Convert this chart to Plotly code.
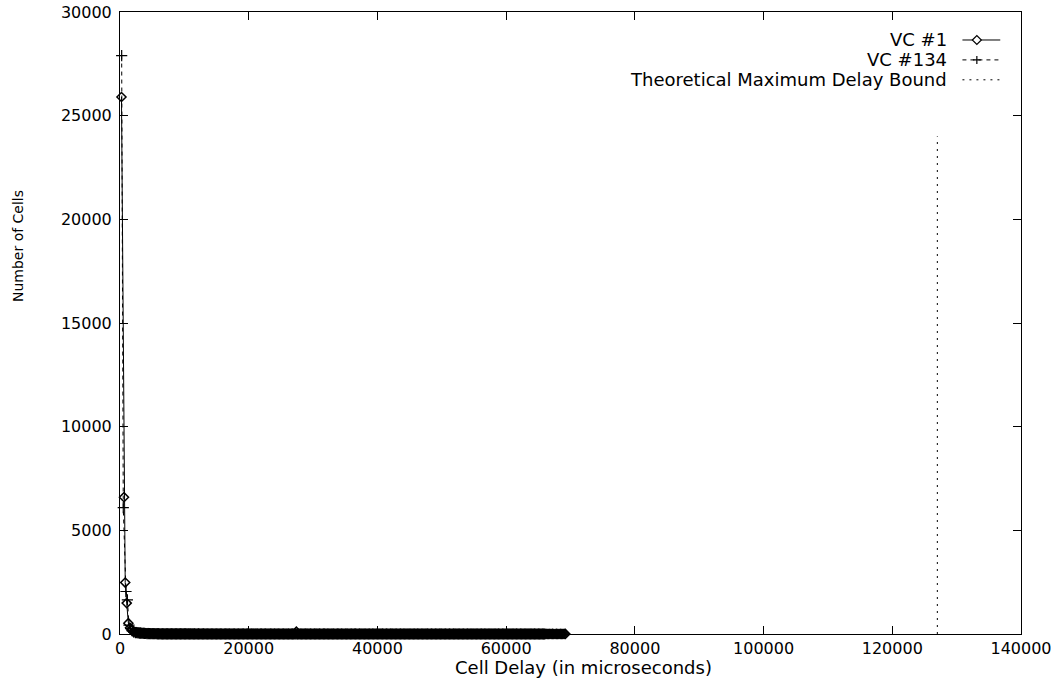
import plotly.graph_objects as go

# ---------------- data ----------------
x_ticks = [0, 20000, 40000, 60000, 80000, 100000, 120000, 140000]
y_ticks = [0, 5000, 10000, 15000, 20000, 25000, 30000]

# VC #1 : first histogram bins (steep part)
vc1_delay_head = [230, 620, 810, 1040, 1300, 1560, 1820, 2100]
vc1_cells_head = [25900, 6600, 2480, 1490, 520, 300, 180, 110]
# tail bins, 200 us wide
bin_width = 200
vc1_delay_tail = list(range(2400, 69201, bin_width))
vc1_cells_tail = [
    85, 75, 66, 58, 51, 45, 40, 36, 32, 29, 26, 24, 22, 20, 18, 16, 15, 14, 13, 12,
    11, 10, 9, 9, 8, 8, 7, 7, 6, 6, 5, 5, 5, 4, 4, 4, 4, 3, 3, 3,
    3, 3, 2, 3, 2, 2, 2, 2, 3, 2, 2, 1, 2, 2, 1, 2, 1, 1, 2, 1,
    1, 2, 1, 1, 1, 2, 1, 1, 0, 1, 1, 1, 2, 1, 0, 1, 1, 1, 0, 1,
    1, 0, 1, 1, 1, 0, 1, 1, 0, 1, 2, 0, 1, 1, 0, 1, 0, 1, 1, 0,
    1, 1, 0, 1, 0, 1, 1, 0, 1, 0, 1, 1, 0, 0, 1, 1, 0, 1, 0, 1,
    0, 1, 1, 0, 1, 110, 1, 0, 1, 0, 0, 1, 1, 0, 1, 0, 1, 0, 0, 1,
    0, 1, 0, 1, 0, 0, 1, 1, 0, 1, 0, 0, 1, 0, 1, 0, 0, 1, 1, 0,
    1, 0, 0, 1, 0, 1, 0, 0, 1, 0, 1, 1, 0, 0, 1, 0, 1, 0, 0, 1,
    0, 0, 1, 0, 1, 0, 0, 1, 0, 0, 1, 0, 1, 0, 0, 1, 0, 0, 1, 0,
    1, 0, 0, 1, 0, 0, 1, 0, 1, 0, 0, 1, 0, 0, 1, 0, 0, 1, 0, 1,
    0, 0, 1, 0, 0, 1, 0, 1, 0, 0, 1, 0, 0, 1, 0, 0, 1, 0, 1, 0,
    0, 1, 0, 0, 1, 0, 0, 1, 0, 1, 0, 0, 1, 0, 0, 1, 0, 0, 1, 0,
    1, 0, 0, 1, 0, 0, 1, 0, 0, 1, 0, 1, 0, 0, 1, 0, 0, 1, 0, 0,
    1, 0, 1, 0, 0, 1, 0, 0, 1, 0, 0, 1, 0, 0, 1, 0, 1, 0, 0, 1,
    0, 0, 1, 0, 0, 1, 0, 0, 1, 0, 1, 0, 0, 1, 0, 0, 1, 0, 0, 1,
    0, 0, 1, 0, 1, 0, 0, 1, 0, 0, 1, 0, 0, 1, 1,
]

# VC #134
vc134_delay_head = [260, 510, 930, 1150, 1400, 1650, 1900, 2150]
vc134_cells_head = [27900, 6100, 2050, 1650, 430, 260, 150, 90]
vc134_delay_tail = list(range(2400, 66001, bin_width))
vc134_cells_tail = [
    70, 61, 53, 46, 40, 35, 31, 27, 24, 21, 19, 17, 15, 14, 13, 12, 11, 10, 9, 8,
    8, 7, 7, 6, 6, 5, 5, 4, 4, 4, 4, 3, 3, 3, 3, 2, 3, 2, 2, 2,
    2, 2, 1, 2, 2, 1, 2, 1, 1, 2, 1, 1, 1, 2, 1, 1, 0, 1, 1, 1,
    1, 0, 1, 1, 1, 0, 1, 1, 0, 1, 1, 0, 1, 1, 0, 1, 0, 1, 1, 0,
    1, 0, 1, 0, 1, 1, 0, 1, 0, 1, 0, 0, 1, 1, 0, 1, 0, 1, 0, 0,
    1, 0, 1, 0, 0, 1, 1, 0, 1, 0, 0, 1, 0, 1, 0, 0, 1, 0, 1, 0,
    0, 1, 0, 1, 0, 0, 1, 0, 0, 1, 0, 1, 0, 0, 1, 0, 1, 0, 0, 1,
    0, 0, 1, 0, 1, 0, 0, 1, 0, 0, 1, 0, 0, 1, 0, 1, 0, 0, 1, 0,
    0, 1, 0, 0, 1, 0, 1, 0, 0, 1, 0, 0, 1, 0, 0, 1, 0, 1, 0, 0,
    1, 0, 0, 1, 0, 0, 1, 0, 1, 0, 0, 1, 0, 0, 1, 0, 0, 1, 0, 0,
    1, 0, 1, 0, 0, 1, 0, 0, 1, 0, 0, 1, 0, 1, 0, 0, 1, 0, 0, 1,
    0, 0, 1, 0, 0, 1, 0, 1, 0, 0, 1, 0, 0, 1, 0, 0, 1, 0, 1, 0,
    0, 1, 0, 0, 1, 0, 0, 1, 0, 0, 1, 0, 1, 0, 0, 1, 0, 0, 1, 0,
    0, 1, 0, 1, 0, 0, 1, 0, 0, 1, 0, 0, 1, 0, 0, 1, 0, 1, 0, 0,
    1, 0, 0, 1, 0, 0, 1, 0, 1, 0, 0, 1, 0, 0, 1, 0, 0, 1, 0, 0,
    1, 0, 1, 0, 0, 1, 0, 0, 1, 0, 0, 1, 0, 1, 0, 0, 1, 0, 1,
]

bound_delay = 127000
bound_top = 24000

series_names = ["VC #1", "VC #134", "Theoretical Maximum Delay Bound"]
x_title = "Cell Delay (in microseconds)"
y_title = "Number of Cells"

# ---------------- figure ----------------
FONT = "DejaVu Sans"
fig = go.Figure()

fig.add_trace(go.Scatter(
    x=vc1_delay_head + vc1_delay_tail, y=vc1_cells_head + vc1_cells_tail,
    mode="lines+markers", name=series_names[0], cliponaxis=False,
    line=dict(color="black", width=1),
    marker=dict(symbol="diamond-open", size=7, color="black",
                line=dict(color="black", width=1.5)),
))
fig.add_trace(go.Scatter(
    x=vc134_delay_head + vc134_delay_tail, y=vc134_cells_head + vc134_cells_tail,
    mode="lines+markers", name=series_names[1], cliponaxis=False,
    line=dict(color="black", width=1, dash="4px,4px"),
    marker=dict(symbol="cross-thin", size=8, color="black",
                line=dict(color="black", width=1.2)),
))
fig.add_trace(go.Scatter(
    x=[bound_delay, bound_delay], y=[0, bound_top],
    mode="lines", name=series_names[2],
    line=dict(color="black", width=1, dash="2px,5px"),
))

# gnuplot-style key: text right-aligned, sample on the right
key_y = [0.955, 0.923, 0.891]
key_text_x = 0.920
key_line_x0, key_line_x1, key_mark_x = 0.935, 0.977, 0.951
dashes = ["solid", "4px,4px", "2px,5px"]
shapes = []
annotations = []
for name, ky, d in zip(series_names, key_y, dashes):
    annotations.append(dict(
        x=key_text_x, y=ky, xref="paper", yref="paper", text=name,
        showarrow=False, xanchor="right", yanchor="middle",
        font=dict(family=FONT, size=18, color="black")))
    shapes.append(dict(
        type="line", xref="paper", yref="paper", x0=key_line_x0, x1=key_line_x1,
        y0=ky, y1=ky, line=dict(color="black", width=1, dash=d)))
shapes.append(dict(
    type="path", xref="paper", yref="paper", xsizemode="pixel", ysizemode="pixel",
    xanchor=key_mark_x, yanchor=key_y[0], path="M-4.5,0L0,4.5L4.5,0L0,-4.5Z",
    fillcolor="white", line=dict(color="black", width=1.2)))
shapes.append(dict(
    type="path", xref="paper", yref="paper", xsizemode="pixel", ysizemode="pixel",
    xanchor=key_mark_x, yanchor=key_y[1], path="M-4,0H4M0,-4V4",
    line=dict(color="black", width=1.2)))

# axis titles (placed like gnuplot does)
annotations.append(dict(
    x=0.514, y=-0.054, xref="paper", yref="paper", text=x_title,
    showarrow=False, xanchor="center", yanchor="middle",
    font=dict(family=FONT, size=18, color="black")))
annotations.append(dict(
    x=-0.113, y=0.624, xref="paper", yref="paper", text=y_title, textangle=-90,
    showarrow=False, xanchor="center", yanchor="middle",
    font=dict(family=FONT, size=14, color="black")))

axis_common = dict(
    showline=True, linecolor="black", linewidth=1, mirror="allticks",
    ticks="inside", ticklen=8, tickwidth=1, tickcolor="black",
    showgrid=False, zeroline=False, tickformat="d", automargin=False,
    tickfont=dict(family=FONT, size=16, color="black"),
)

fig.update_layout(
    width=1061, height=688,
    margin=dict(l=120, r=40, t=12, b=54),
    paper_bgcolor="white", plot_bgcolor="white",
    showlegend=False,
    shapes=shapes, annotations=annotations,
    xaxis=dict(range=[0, 140000], tickvals=x_ticks, **axis_common),
    yaxis=dict(range=[0, 30000], tickvals=y_ticks, ticklabelstandoff=4,
               **axis_common),
)

fig.write_html("out.html")
